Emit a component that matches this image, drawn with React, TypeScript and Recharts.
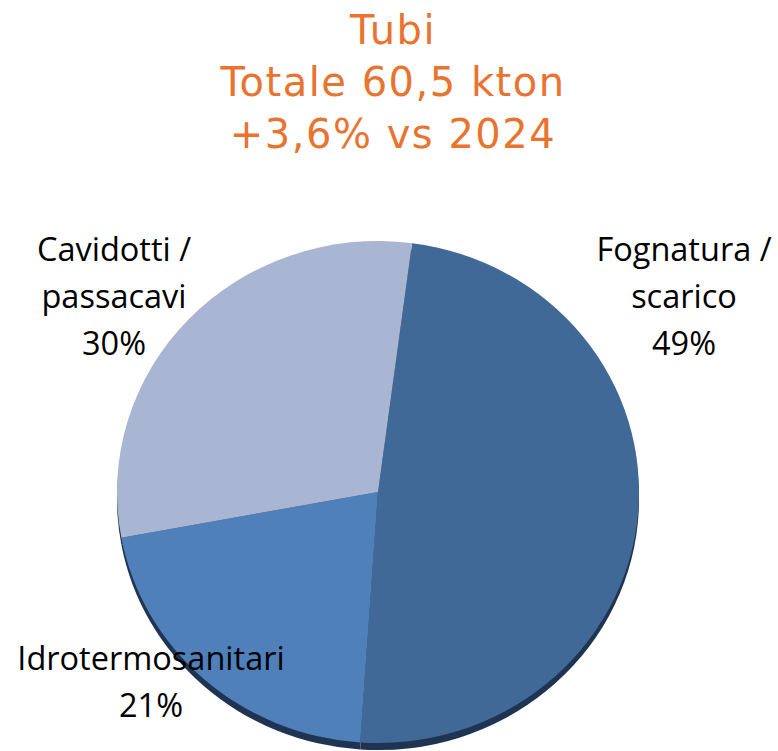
import { PieChart, Pie, Cell } from 'recharts'

const categories = ['Fognatura /\nscarico', 'Idrotermosanitari', 'Cavidotti /\npassacavi']
const shares = [49, 21, 30]
const titleLines = ['Tubi', 'Totale 60,5 kton', '+3,6% vs 2024']

const COLORS = ['#416997', '#4f80ba', '#a8b6d3']
const SHADOW = '#1f3353'

// where Excel put each data label (centre x, first baseline)
const LABEL_POS = [
  { x: 684, y: 261 },
  { x: 151, y: 670 },
  { x: 114, y: 261 },
]

// the pie is drawn slightly squashed, like the tilted original
const SQUASH = 251 / 261

const data = categories.map((name, i) => ({ name, value: shares[i] }))

export default function App() {
  return (
    <div
      style={{
        position: 'absolute',
        left: 0,
        top: 0,
        width: 778,
        height: 751,
        background: '#fff',
        overflow: 'hidden',
      }}
    >
      <div style={{ position: 'absolute', left: 0, top: 0, transform: `scaleY(${SQUASH})`, transformOrigin: '0 0' }}>
        <PieChart width={778} height={800} margin={{ top: 0, right: 0, bottom: 0, left: 0 }}>
          <Pie
            data={data}
            dataKey="value"
            cx={378}
            cy={519}
            outerRadius={261}
            startAngle={82.5}
            endAngle={-277.5}
            stroke="none"
            fill={SHADOW}
            isAnimationActive={false}
            legendType="none"
          />
          <Pie
            data={data}
            dataKey="value"
            cx={378}
            cy={511.6}
            outerRadius={261}
            startAngle={82.5}
            endAngle={-277.5}
            stroke="none"
            labelLine={false}
            isAnimationActive={false}
          >
            {data.map((_, i) => (
              <Cell key={i} fill={COLORS[i]} />
            ))}
          </Pie>
        </PieChart>
      </div>
      <svg width={778} height={751} style={{ position: 'absolute', left: 0, top: 0, pointerEvents: 'none' }}>
        {titleLines.map((t, i) => (
          <text
            key={i}
            x={393}
            y={44 + i * 52}
            textAnchor="middle"
            fill="#e9742f"
            style={{ fontFamily: '"DejaVu Sans", sans-serif', fontSize: 40, letterSpacing: 1.5 }}
          >
            {t}
          </text>
        ))}
        {data.map((d, i) => {
          const pos = LABEL_POS[i]
          const lines = [...d.name.split('\n'), `${d.value}%`]
          return (
            <text
              key={i}
              textAnchor="middle"
              fill="#000"
              style={{ fontFamily: '"Open Sans", sans-serif', fontSize: 32.5 }}
            >
              {lines.map((l, j) => (
                <tspan key={j} x={pos.x} y={pos.y + j * 47}>
                  {l}
                </tspan>
              ))}
            </text>
          )
        })}
      </svg>
    </div>
  )
}
